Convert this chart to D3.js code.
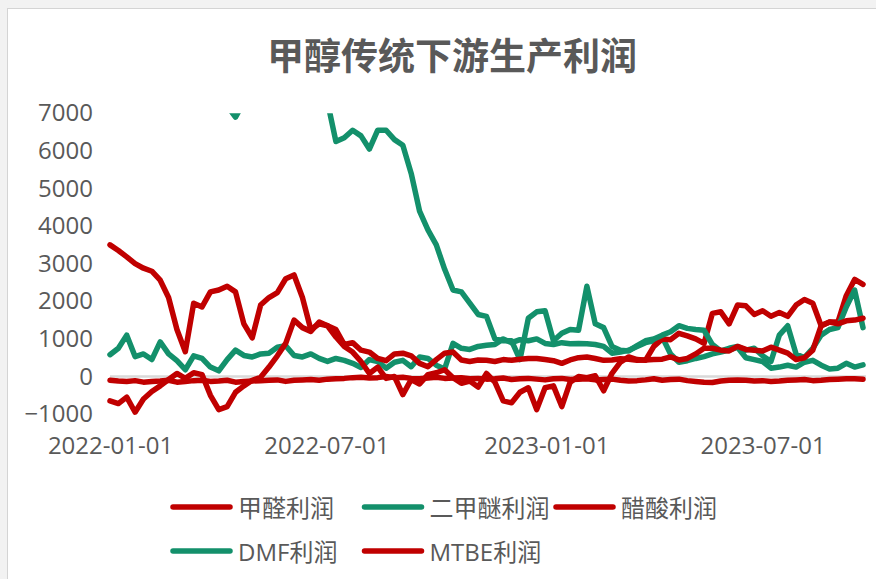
<!DOCTYPE html>
<html>
<head>
<meta charset="utf-8">
<script src="https://cdn.jsdelivr.net/npm/d3@7"></script>
<style>
  body { margin: 0; background: #f2f2f2; }
  svg { display: block; }
  text { font-family: "Open Sans", "Noto Sans CJK SC", sans-serif; fill: #595959; }
</style>
</head>
<body>
<svg width="876" height="579"></svg>
<script>
var width = 876;
var height = 579;
var margin = { top: 113.3, bottom: 165, left: 110, right: 13 };

var title = '甲醇传统下游生产利润';

// weekly dates
var dates = [
  '2022-01-01','2022-01-08','2022-01-15','2022-01-22','2022-01-29','2022-02-05','2022-02-12','2022-02-19','2022-02-26',
  '2022-03-05','2022-03-12','2022-03-19','2022-03-26','2022-04-02','2022-04-09','2022-04-16','2022-04-23','2022-04-30',
  '2022-05-07','2022-05-14','2022-05-21','2022-05-28','2022-06-04','2022-06-11','2022-06-18','2022-06-25',
  '2022-07-02','2022-07-09','2022-07-16','2022-07-23','2022-07-30','2022-08-06','2022-08-13','2022-08-20','2022-08-27',
  '2022-09-03','2022-09-10','2022-09-17','2022-09-24','2022-10-01','2022-10-08','2022-10-15','2022-10-22','2022-10-29',
  '2022-11-05','2022-11-12','2022-11-19','2022-11-26','2022-12-03','2022-12-10','2022-12-17','2022-12-24','2022-12-31',
  '2023-01-07','2023-01-14','2023-01-21','2023-01-28','2023-02-04','2023-02-11','2023-02-18','2023-02-25',
  '2023-03-04','2023-03-11','2023-03-18','2023-03-25','2023-04-01','2023-04-08','2023-04-15','2023-04-22','2023-04-29',
  '2023-05-06','2023-05-13','2023-05-20','2023-05-27','2023-06-03','2023-06-10','2023-06-17','2023-06-24',
  '2023-07-01','2023-07-08','2023-07-15','2023-07-22','2023-07-29','2023-08-05','2023-08-12','2023-08-19','2023-08-26',
  '2023-09-02','2023-09-09','2023-09-16','2023-09-23'
];

// 甲醛利润
var formaldehyde = [
  -100, -120, -130, -110, -150, -130, -120, -100, -150, -130,
  -110, -100, -130, -120, -100, -150, -130, -120, -110, -100,
  -90, -130, -100, -90, -80, -100, -70, -60, -50, -30,
  -20, -40, -30, 0, -30, -20, -50, -60, -40, -20,
  -50, -40, -30, -60, -50, -70, -60, -40, -80, -60,
  -50, -70, -90, -60, -50, -80, -70, -60, -90, -80,
  -70, -100, -120, -110, -90, -60, -100, -80, -70, -110,
  -130, -150, -160, -120, -100, -90, -100, -120, -110, -130,
  -120, -100, -90, -80, -110, -100, -80, -70, -60, -60, -70
];
// 二甲醚利润
var dme = [
  580, 750, 1100, 530, 600, 450, 920, 600, 420, 180,
  550, 480, 250, 150, 450, 700, 560, 520, 600, 620,
  780, 820, 560, 520, 600, 480, 400, 480, 430, 350,
  240, 450, 400, 220, 380, 430, 260, 520, 480, 300,
  200, 880, 750, 720, 800, 830, 850, 1000, 900, 980,
  950, 1000, 880, 850, 900, 870, 880, 870, 850, 800,
  620, 650, 700, 800, 900, 950, 1050, 600, 380, 420,
  480, 530, 600, 650, 700, 780, 500, 450, 400, 220,
  250, 300, 250, 380, 430, 300, 200, 220, 350, 250, 310
];
// 醋酸利润
var aceticAcid = [
  3500, 3350, 3180, 3000, 2880, 2800, 2560, 2100, 1250, 660,
  1950, 1850, 2250, 2300, 2400, 2250, 1400, 1030, 1900, 2100,
  2230, 2600, 2700, 2100, 1250, 1400, 1350, 1050, 800, 650,
  400, 80, 250, -50, 0, -480, -80, -200, 50, 100,
  180, -30, -180, -120, -280, 80, -150, -650, -700, -420,
  -300, -880, -300, -250, -800, -150, 0, -30, 20, -380,
  85, 380, 520, 450, 430, 800, 1000, 980, 1150, 1080,
  1000, 880, 1680, 1720, 1400, 1900, 1880, 1650, 1750, 1600,
  1700, 1600, 1900, 2050, 1950, 1350, 1450, 1450, 2150, 2580, 2450
];
// DMF利润
var dmf = [
  7600, 7800, 8000, 7900, 8100, 8200, 8000, 7900, 7800, 7700,
  7600, 7500, 7400, 7300, 7200, 6900, 7300, 7500, 7800, 8000,
  8200, 8300, 8100, 7900, 7700, 7400, 7300, 6250, 6350, 6550,
  6400, 6050, 6550, 6550, 6300, 6150, 5400, 4400, 3900, 3500,
  2850, 2300, 2250, 1950, 1650, 1600, 1000, 950, 950, 450,
  1550, 1720, 1750, 950, 1150, 1250, 1230, 2400, 1400, 1300,
  800, 700, 680, 820, 950, 1000, 1100, 1190, 1350, 1280,
  1250, 1230, 850, 680, 750, 800, 700, 750, 550, 400,
  1100, 1350, 600, 500, 750, 1100, 1250, 1300, 1850, 2300, 1300
];
// MTBE利润
var mtbe = [
  -650, -720, -550, -950, -600, -400, -250, -80, 80, -50,
  100, 50, -500, -880, -800, -420, -250, -100, -20, 250,
  550, 880, 1500, 1300, 1200, 1450, 1350, 1250, 850, 900,
  700, 650, 480, 420, 600, 620, 550, 350, 260, 450,
  620, 650, 440, 400, 440, 430, 400, 450, 430, 460,
  480, 480, 450, 420, 350, 440, 500, 520, 480, 430,
  440, 470, 460, 430, 440, 450, 460, 520, 440, 480,
  600, 750, 750, 700, 680, 800, 720, 700, 680, 780,
  700, 620, 450, 500, 700, 1350, 1450, 1400, 1480, 1500, 1550
];

var names = ['甲醛利润', '二甲醚利润', '醋酸利润', 'DMF利润', 'MTBE利润'];
var colors = ['#c00000', '#13906b', '#c00000', '#13906b', '#c00000'];
var yTicks = [-1000, 0, 1000, 2000, 3000, 4000, 5000, 6000, 7000];
var xTicks = ['2022-01-01', '2022-07-01', '2023-01-01', '2023-07-01'];

var parse = d3.timeParse('%Y-%m-%d');
var days = dates.map(parse);
var seriesList = [formaldehyde, dme, aceticAcid, dmf, mtbe];

var svg = d3.select('svg');

// chart frame
svg.append('rect')
  .attr('x', 7.5).attr('y', 8.5)
  .attr('width', width).attr('height', height)
  .attr('fill', '#fff')
  .attr('stroke', '#d4d4d4');

svg.append('text')
  .attr('x', 452).attr('y', 54)
  .attr('text-anchor', 'middle')
  .attr('dominant-baseline', 'central')
  .style('font-family', '"Noto Sans CJK SC", sans-serif')
  .style('font-size', '37px')
  .style('font-weight', 'bold')
  .text(title);

// scales
var xScale = d3.scaleTime()
  .domain(d3.extent(days))
  .range([margin.left, 863]);
var yScale = d3.scaleLinear()
  .domain([-1000, 7000])
  .range([414.1, margin.top]);

// zero line
svg.append('line')
  .attr('x1', margin.left).attr('x2', 866)
  .attr('y1', yScale(0)).attr('y2', yScale(0))
  .attr('stroke', '#d9d9d9')
  .attr('stroke-width', 2.5);

svg.append('clipPath').attr('id', 'plot')
  .append('rect')
  .attr('x', 100).attr('y', yScale(7000))
  .attr('width', 776).attr('height', 330);

var line = d3.line()
  .x((d, i) => xScale(days[i]))
  .y(d => yScale(d));

var plot = svg.append('g').attr('clip-path', 'url(#plot)');
seriesList.forEach((s, i) => {
  plot.append('path')
    .attr('d', line(s))
    .attr('fill', 'none')
    .attr('stroke', colors[i])
    .attr('stroke-width', 5.5)
    .attr('stroke-linejoin', 'round')
    .attr('stroke-linecap', 'round');
});

// axes
var yAxis = d3.axisLeft(yScale)
  .tickValues(yTicks)
  .tickSize(0)
  .tickPadding(17)
  .tickFormat(d3.format('d'));
var xAxis = d3.axisBottom(xScale)
  .tickValues(xTicks.map(parse))
  .tickSize(0)
  .tickPadding(17)
  .tickFormat(d3.timeFormat('%Y-%m-%d'));

svg.append('g')
  .attr('transform', 'translate(' + [margin.left, 0] + ')')
  .call(yAxis)
  .call(g => g.select('.domain').remove());
svg.append('g')
  .attr('transform', 'translate(' + [0, 420] + ')')
  .call(xAxis)
  .call(g => g.select('.domain').remove());

svg.selectAll('.tick text')
  .attr('fill', '#595959')
  .style('font-size', '24px')
  .style('font-family', '"Open Sans", "Noto Sans CJK SC", sans-serif');

// legend
var legend = svg.append('g');
names.forEach((name, i) => {
  var lx = 173 + (i % 3) * 191.5;
  var ly = 507 + Math.floor(i / 3) * 44;
  legend.append('line')
    .attr('x1', lx).attr('x2', lx + 57)
    .attr('y1', ly).attr('y2', ly)
    .attr('stroke', colors[i])
    .attr('stroke-width', 5.5)
    .attr('stroke-linecap', 'round');
  legend.append('text')
    .attr('x', lx + 65).attr('y', ly)
    .attr('dominant-baseline', 'central')
    .style('font-size', '24px')
    .text(name);
});
</script>
</body>
</html>
